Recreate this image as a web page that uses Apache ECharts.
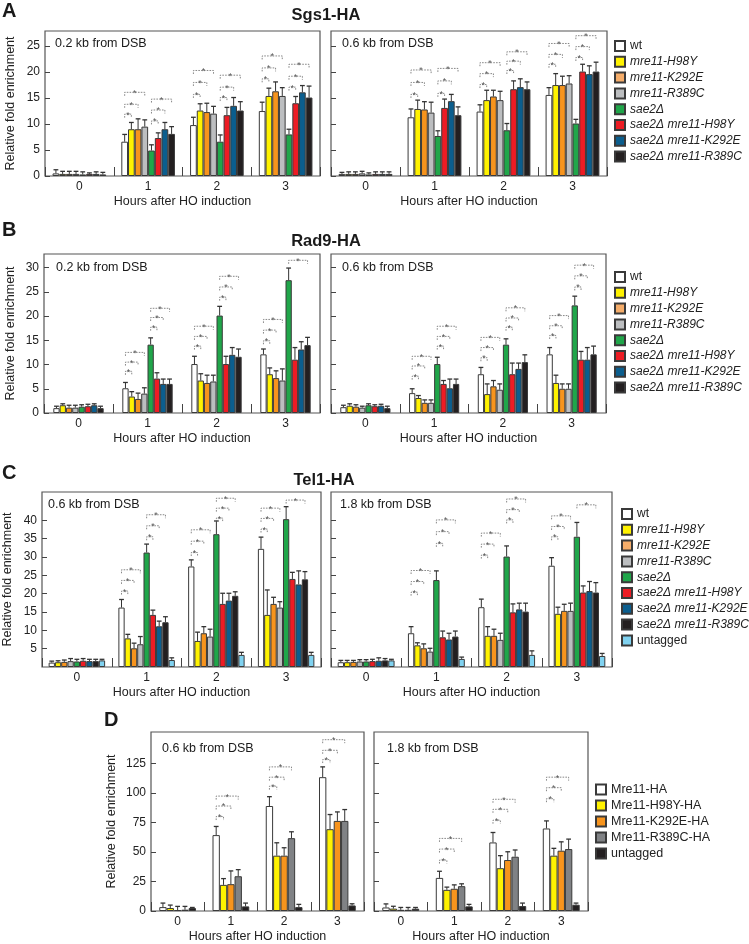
<!DOCTYPE html>
<html><head><meta charset="utf-8">
<script src="https://cdn.jsdelivr.net/npm/echarts@6/dist/echarts.min.js"></script>
<style>html,body{margin:0;padding:0;background:#fff}#c{width:749px;height:944px}</style>
</head><body><div id="c"></div>
<script>
// ---------- categories / names ----------
const hours = ['0', '1', '2', '3'];
const strainsAB = ['wt', 'mre11-H98Y', 'mre11-K292E', 'mre11-R389C', 'sae2Δ', 'sae2Δ mre11-H98Y', 'sae2Δ mre11-K292E', 'sae2Δ mre11-R389C'];
const strainsC = ['wt', 'mre11-H98Y', 'mre11-K292E', 'mre11-R389C', 'sae2Δ', 'sae2Δ mre11-H98Y', 'sae2Δ mre11-K292E', 'sae2Δ mre11-R389C', 'untagged'];
const strainsD = ['Mre11-HA', 'Mre11-H98Y-HA', 'Mre11-K292E-HA', 'Mre11-R389C-HA', 'untagged'];

// ---------- tick values ----------
const ticksA = [0, 5, 10, 15, 20, 25];
const ticksB = [0, 5, 10, 15, 20, 25, 30];
const ticksC = [5, 10, 15, 20, 25, 30, 35, 40];
const ticksD = [0, 25, 50, 75, 100, 125];

// ---------- A: Sgs1-HA (rows = strains, cols = hours 0..3) ----------
const sgs1Near = [[0.5, 6.6, 9.8, 12.5], [0.4, 9.0, 12.6, 15.4], [0.4, 9.0, 12.3, 16.3], [0.4, 9.5, 12.0, 15.4], [0.3, 4.9, 6.6, 8.0], [0.4, 7.3, 11.7, 14.0], [0.4, 9.0, 13.5, 16.1], [0.3, 8.1, 12.6, 15.1]];
const sgs1NearErr = [[0.7, 1.4, 1.5, 1.7], [0.5, 1.3, 1.3, 1.5], [0.5, 2.0, 1.7, 1.8], [0.5, 1.3, 1.4, 1.6], [0.5, 1.1, 1.3, 1.0], [0.2, 1.0, 1.5, 1.3], [0.4, 1.3, 1.6, 1.3], [0.4, 1.4, 1.7, 2.2]];
const sgs1Far = [[0.4, 11.3, 12.4, 15.6], [0.4, 12.9, 14.6, 17.5], [0.4, 12.8, 15.3, 17.5], [0.5, 12.2, 14.6, 17.8], [0.3, 7.7, 8.8, 10.1], [0.4, 13.1, 16.7, 20.1], [0.4, 14.4, 17.1, 19.6], [0.4, 11.7, 16.7, 20.1]];
const sgs1FarErr = [[0.3, 1.6, 1.3, 1.4], [0.4, 1.7, 1.9, 2.2], [0.4, 1.5, 1.2, 1.7], [0.4, 2.0, 1.7, 1.5], [0.3, 1.0, 1.3, 0.8], [0.4, 1.7, 1.6, 1.4], [0.4, 1.3, 1.6, 1.6], [0.4, 1.6, 1.4, 1.8]];
// significance brackets: [hour, fromBar, toBar, level]
const sgs1NearSig = [[1,0,1,11.9],[1,0,2,13.8],[1,0,3,16.1],[1,4,5,10.6],[1,4,6,12.7],[1,4,7,14.8],[2,0,1,15.7],[2,0,2,18.0],[2,0,3,20.3],[2,4,5,15.1],[2,4,6,17.1],[2,4,7,19.4],[3,0,1,18.7],[3,0,2,20.8],[3,0,3,23.1],[3,4,5,17.1],[3,4,6,19.2],[3,4,7,21.5]];
const sgs1FarSig = [[1,0,1,15.7],[1,0,2,18.0],[1,0,3,20.4],[1,4,5,15.9],[1,4,6,18.3],[1,4,7,20.7],[2,0,1,17.6],[2,0,2,19.7],[2,0,3,21.8],[2,4,5,20.3],[2,4,6,22.1],[2,4,7,23.9],[3,0,1,21.5],[3,0,2,23.4],[3,0,3,25.5],[3,4,5,22.8],[3,4,6,24.9],[3,4,7,27.0]];

// ---------- B: Rad9-HA ----------
const rad9Near = [[1.0, 5.1, 10.1, 12.1], [1.6, 3.4, 6.7, 8.0], [1.1, 2.9, 6.2, 7.2], [1.1, 4.0, 6.5, 6.7], [1.3, 14.1, 20.1, 27.4], [1.4, 7.1, 10.1, 11.0], [1.6, 6.0, 12.0, 13.1], [1.0, 6.0, 11.6, 14.0]];
const rad9NearErr = [[0.4, 1.2, 1.6, 1.1], [0.3, 1.0, 1.4, 1.3], [0.5, 1.2, 1.6, 1.5], [0.5, 1.2, 1.3, 2.4], [0.4, 1.4, 1.9, 2.5], [0.4, 1.2, 1.6, 2.5], [0.3, 1.0, 1.5, 1.6], [0.4, 1.0, 1.6, 1.6]];
const rad9Far = [[1.2, 4.1, 8.0, 12.1], [1.5, 3.1, 3.9, 6.2], [1.3, 2.1, 5.5, 5.0], [1.1, 2.1, 4.8, 5.0], [1.6, 10.1, 14.1, 22.2], [1.4, 6.0, 8.0, 11.0], [1.5, 5.1, 9.1, 11.0], [1.0, 6.0, 10.5, 12.1]];
const rad9FarErr = [[0.4, 0.9, 1.4, 1.4], [0.4, 0.5, 2.1, 1.6], [0.4, 0.6, 1.2, 1.0], [0.3, 0.6, 1.2, 1.0], [0.3, 1.4, 1.2, 1.9], [0.3, 0.7, 2.3, 1.7], [0.3, 1.9, 1.2, 2.5], [0.4, 1.0, 1.5, 1.7]];
const rad9NearSig = [[1,0,1,8.6],[1,0,2,10.5],[1,0,3,12.5],[1,4,5,17.7],[1,4,6,19.7],[1,4,7,21.6],[2,0,1,13.8],[2,0,2,15.8],[2,0,3,17.9],[2,4,5,23.9],[2,4,6,26.0],[2,4,7,28.2],[3,0,1,14.9],[3,0,2,17.1],[3,0,3,19.3],[3,4,7,31.5]];
const rad9FarSig = [[1,0,1,7.6],[1,0,2,9.7],[1,0,3,11.7],[1,4,5,13.8],[1,4,6,15.8],[1,4,7,17.9],[2,0,1,11.4],[2,0,2,13.5],[2,0,3,15.6],[2,4,5,17.7],[2,4,6,19.6],[2,4,7,21.7],[3,0,1,16.0],[3,0,2,18.0],[3,0,3,20.1],[3,4,5,26.0],[3,4,6,28.3],[3,4,7,30.5]];

// ---------- C: Tel1-HA ----------
const tel1Near = [[1.2, 16.2, 27.4, 32.2], [1.3, 7.8, 7.1, 14.2], [1.4, 5.1, 9.2, 17.2], [1.6, 6.2, 8.3, 16.2], [1.5, 31.2, 36.2, 40.3], [1.7, 14.2, 17.2, 24.0], [1.6, 11.1, 18.1, 22.5], [1.6, 12.2, 19.4, 23.9], [1.8, 1.9, 3.3, 3.3]];
const tel1NearErr = [[0.4, 2.2, 1.8, 3.2], [0.4, 1.1, 2.4, 6.8], [0.5, 1.4, 1.8, 1.8], [0.7, 2.1, 2.0, 1.6], [0.6, 2.3, 3.6, 3.4], [0.6, 1.3, 2.9, 1.8], [0.5, 1.4, 2.0, 3.7], [0.5, 1.5, 1.1, 2.1], [0.3, 0.6, 0.7, 0.7]];
const tel1Far = [[1.3, 9.2, 16.3, 27.6], [1.3, 5.9, 8.5, 14.5], [1.4, 5.1, 8.5, 15.3], [1.5, 4.2, 7.4, 15.3], [1.5, 23.7, 30.1, 35.5], [1.6, 8.1, 14.9, 20.3], [1.7, 7.5, 15.7, 20.7], [1.8, 8.3, 15.1, 20.3], [1.8, 2.2, 3.3, 3.0]];
const tel1FarErr = [[0.5, 1.8, 2.2, 2.2], [0.5, 0.7, 2.5, 1.8], [0.4, 1.2, 1.8, 1.8], [0.5, 0.9, 1.8, 2.1], [0.5, 2.5, 2.9, 3.9], [0.5, 1.7, 2.3, 1.8], [0.8, 1.7, 1.7, 2.6], [0.5, 1.5, 2.3, 2.7], [0.3, 0.5, 1.1, 0.7]];
const tel1NearSig = [[1,0,1,20.7],[1,0,2,23.6],[1,0,3,26.5],[1,4,5,35.5],[1,4,6,38.5],[1,4,7,41.5],[2,0,1,31.2],[2,0,2,34.3],[2,0,3,37.4],[2,4,5,40.6],[2,4,6,43.3],[2,4,7,46.0],[3,0,1,37.6],[3,0,2,40.5],[3,0,3,43.3],[3,4,7,45.5]];
const tel1FarSig = [[1,0,1,20.4],[1,0,2,23.3],[1,0,3,26.3],[1,4,5,33.7],[1,4,6,36.9],[1,4,7,40.1],[2,0,1,30.5],[2,0,2,33.5],[2,0,3,36.5],[2,4,5,40.1],[2,4,6,42.9],[2,4,7,45.8],[3,0,1,35.5],[3,0,2,38.3],[3,0,3,41.2],[3,4,7,44.2]];

// ---------- D: Mre11-HA ----------
const mre11Near = [[3.3, 64.2, 88.8, 113.2], [2.5, 22.1, 46.8, 69.2], [0.8, 22.7, 46.8, 76.2], [1.1, 29.4, 61.6, 76.2], [2.5, 3.9, 3.3, 4.7]];
const mre11NearErr = [[3.4, 7.3, 7.9, 8.7], [2.5, 5.3, 10.9, 12.4], [3.1, 11.2, 6.7, 7.6], [2.8, 5.6, 5.4, 9.6], [0.5, 2.8, 2.3, 1.4]];
const mre11Far = [[3.0, 28.0, 58.0, 69.8], [2.0, 17.9, 36.2, 46.8], [1.0, 18.8, 43.1, 51.0], [1.0, 21.0, 45.9, 52.4], [2.0, 3.9, 4.2, 5.3]];
const mre11FarErr = [[3.0, 5.6, 8.4, 6.4], [2.0, 2.3, 10.6, 6.2], [2.0, 3.3, 7.0, 7.5], [2.0, 2.0, 5.7, 8.4], [1.0, 1.7, 2.5, 1.4]];
const mre11NearSig = [[1,0,1,79.9],[1,0,2,88.8],[1,0,3,97.2],[2,0,1,105.6],[2,0,2,113.2],[2,0,3,121.9],[3,0,1,128.1],[3,0,2,135.9],[3,0,3,144.9]];
const mre11FarSig = [[1,0,1,43.1],[1,0,2,52.4],[1,0,3,61.4],[2,0,1,76.8],[2,0,2,86.0],[2,0,3,94.5],[3,0,1,95.0],[3,0,2,104.3],[3,0,3,113.2]];

// ---------- styles ----------
const colorsAB = ['#ffffff', '#fff200', '#f7941d', '#bcbec0', '#20a64a', '#ed1c24', '#0b5e8e', '#231f20'];
const colorsC = ['#ffffff', '#fff200', '#f7941d', '#bcbec0', '#20a64a', '#ed1c24', '#0b5e8e', '#231f20', '#80d2f0'];
const colorsD = ['#ffffff', '#fff200', '#f7941d', '#808285', '#231f20'];
const FF = "'Liberation Sans', Arial, Helvetica, sans-serif";
const TXT = '#222';

const panels = [
  {rect: [45, 31, 275, 145], max: 27.9, ticks: ticksA, gap: 22, names: strainsAB, colors: colorsAB, mean: sgs1Near, err: sgs1NearErr, sig: sgs1NearSig, left: true, nameGap: 28},
  {rect: [331, 31, 276, 145], max: 27.9, ticks: ticksA, gap: 22, names: strainsAB, colors: colorsAB, mean: sgs1Far, err: sgs1FarErr, sig: sgs1FarSig, left: false},
  {rect: [44, 254, 276, 159], max: 32.8, ticks: ticksB, gap: 27, names: strainsAB, colors: colorsAB, mean: rad9Near, err: rad9NearErr, sig: rad9NearSig, left: true, nameGap: 27},
  {rect: [331, 254, 275, 159], max: 32.8, ticks: ticksB, gap: 27, names: strainsAB, colors: colorsAB, mean: rad9Far, err: rad9FarErr, sig: rad9FarSig, left: false},
  {rect: [38, 492, 283, 175], max: 47.7, ticks: ticksC, gap: 19, names: strainsC, colors: colorsC, mean: tel1Near, err: tel1NearErr, sig: tel1NearSig, left: true, nameGap: 28},
  {rect: [331, 492, 281, 175], max: 47.7, ticks: ticksC, gap: 19, names: strainsC, colors: colorsC, mean: tel1Far, err: tel1FarErr, sig: tel1FarSig, left: false},
  {rect: [151, 732, 213, 180], max: 151.4, ticks: ticksD, gap: 31, names: strainsD, colors: colorsD, mean: mre11Near, err: mre11NearErr, sig: mre11NearSig, left: true, nameGap: 33},
  {rect: [374, 732, 214, 180], max: 151.4, ticks: ticksD, gap: 31, names: strainsD, colors: colorsD, mean: mre11Far, err: mre11FarErr, sig: mre11FarSig, left: false}
];

function barX(api, p, cat, k) {
  const c = api.coord([cat, 0])[0];
  const band = api.size([1, 0])[0];
  const gw = band * (1 - p.gap / 100);
  const bw = gw / p.names.length;
  return c - gw / 2 + (k + 0.5) * bw;
}

const grid = [], xAxis = [], yAxis = [], series = [];
panels.forEach((p, i) => {
  grid.push({left: p.rect[0], top: p.rect[1], width: p.rect[2], height: p.rect[3], show: true, borderColor: '#555', borderWidth: 1.2, backgroundColor: '#fff'});
  xAxis.push({
    type: 'category', gridIndex: i, data: hours, boundaryGap: true,
    axisLine: {show: false},
    axisTick: {show: true, inside: true, length: 9, alignWithLabel: false, lineStyle: {color: '#444', width: 1}},
    axisLabel: {fontSize: 12, color: TXT, margin: 5, fontFamily: FF},
    splitLine: {show: false},
    name: 'Hours after HO induction', nameLocation: 'middle', nameGap: 19,
    nameTextStyle: {fontSize: 12.5, color: TXT, fontFamily: FF}
  });
  const tk = p.ticks;
  yAxis.push({
    type: 'value', gridIndex: i, min: 0, max: p.max, interval: tk[1] - tk[0],
    axisLine: {show: false},
    axisTick: {show: true, inside: true, length: 5, customValues: tk, lineStyle: {color: '#444'}},
    splitLine: {show: false},
    axisLabel: {show: p.left, fontSize: 12, color: TXT, margin: 5, fontFamily: FF, customValues: tk,
      formatter: v => (tk.indexOf(Math.round(v * 100) / 100) >= 0) ? String(Math.round(v)) : ''},
    name: p.left ? 'Relative fold enrichment' : '', nameLocation: 'middle', nameGap: p.nameGap || 28,
    nameTextStyle: {fontSize: 12.5, color: TXT, fontFamily: FF}
  });
  p.names.forEach((n, k) => {
    series.push({
      type: 'bar', name: n, xAxisIndex: i, yAxisIndex: i, data: p.mean[k],
      barGap: '0%', barCategoryGap: p.gap + '%',
      itemStyle: {color: p.colors[k], borderColor: '#3a3a3a', borderWidth: 1},
      emphasis: {disabled: true}, silent: true
    });
  });
  const errData = [];
  p.mean.forEach((row, k) => row.forEach((v, c) => errData.push([c, k, v, p.err[k][c]])));
  series.push({
    type: 'custom', xAxisIndex: i, yAxisIndex: i, data: errData, encode: {x: 0, y: 2}, z: 5, silent: true,
    renderItem: (params, api) => {
      const cat = api.value(0), k = api.value(1), v = api.value(2), e = api.value(3);
      const x = barX(api, p, cat, k);
      const y0 = api.coord([cat, v])[1], y1 = api.coord([cat, v + e])[1];
      return {type: 'group', children: [
        {type: 'line', shape: {x1: x, y1: y0, x2: x, y2: y1}, style: {stroke: '#333', lineWidth: 1}},
        {type: 'line', shape: {x1: x - 2.4, y1: y1, x2: x + 2.4, y2: y1}, style: {stroke: '#333', lineWidth: 1.3}}
      ]};
    }
  });
  series.push({
    type: 'custom', xAxisIndex: i, yAxisIndex: i, data: p.sig, encode: {x: 0, y: 3}, z: 6, silent: true,
    renderItem: (params, api) => {
      const cat = api.value(0), a = api.value(1), b = api.value(2), lv = api.value(3);
      const x1 = barX(api, p, cat, a), x2 = barX(api, p, cat, b);
      const y = api.coord([cat, lv])[1];
      return {type: 'group', children: [
        {type: 'polyline', shape: {points: [[x1, y + 3.5], [x1, y], [x2, y], [x2, y + 3.5]]},
          style: {stroke: '#6a6a6a', lineWidth: 0.8, lineDash: [1.6, 1.2], fill: null}},
        {type: 'text', x: (x1 + x2) / 2, y: y + 1,
          style: {text: '*', fontSize: 9, fontFamily: FF, fill: '#555', align: 'center', verticalAlign: 'middle', textAlign: 'center', textVerticalAlign: 'middle'}}
      ]};
    }
  });
});

const italicFmt = name => (name === 'wt' || name === 'untagged') ? name : '{i|' + name + '}';
const legTxt = {fontSize: 12, lineHeight: 12, color: TXT, fontFamily: FF, rich: {i: {fontStyle: 'italic', fontSize: 12, lineHeight: 12, color: TXT, fontFamily: FF}}};
function legData(names) {
  return names.map(n => n === 'mre11-K292E' ? {name: n, itemStyle: {color: '#f5ad6a'}} : n);
}
const legendBase = {orient: 'vertical', itemWidth: 10, itemHeight: 10, padding: 0, icon: 'rect', selectedMode: false};
const legend = [
  Object.assign({}, legendBase, {left: 614, top: 40, itemGap: 3.8, data: legData(strainsAB), formatter: italicFmt, textStyle: legTxt}),
  Object.assign({}, legendBase, {left: 614, top: 271, itemGap: 3.8, data: legData(strainsAB), formatter: italicFmt, textStyle: legTxt}),
  Object.assign({}, legendBase, {left: 621, top: 508, itemGap: 3.8, data: legData(strainsC), formatter: italicFmt, textStyle: legTxt}),
  Object.assign({}, legendBase, {left: 595, top: 783, itemGap: 3.0,
    data: strainsD.map(n => n === 'untagged' ? {name: n, itemStyle: {color: '#231f20'}} : n),
    textStyle: {fontSize: 12.5, lineHeight: 12, color: TXT, fontFamily: FF}})
];

function txt(text, x, y, size, bold, align) {
  return {type: 'text', x: x, y: y, silent: true,
    style: {text: text, fontSize: size, fontWeight: bold ? 'bold' : 'normal', fontFamily: FF, fill: '#1a1a1a',
      align: align || 'left', verticalAlign: 'middle', textAlign: align || 'left', textVerticalAlign: 'middle'}};
}
const graphic = [
  txt('A', 2, 11, 20, true), txt('Sgs1-HA', 326, 15, 16.5, true, 'center'),
  txt('0.2 kb from DSB', 55, 44, 12.5), txt('0.6 kb from DSB', 342, 44, 12.5),
  txt('B', 2, 230, 20, true), txt('Rad9-HA', 326, 241, 16.5, true, 'center'),
  txt('0.2 kb from DSB', 56, 268, 12.5), txt('0.6 kb from DSB', 342, 268, 12.5),
  txt('C', 2, 473, 20, true), txt('Tel1-HA', 324, 480, 16.5, true, 'center'),
  txt('0.6 kb from DSB', 48, 505, 12.5), txt('1.8 kb from DSB', 340, 505, 12.5),
  txt('D', 104, 720, 20, true),
  txt('0.6 kb from DSB', 162, 749, 12.5), txt('1.8 kb from DSB', 387, 749, 12.5)
];

const chart = echarts.init(document.getElementById('c'), null, {renderer: 'canvas'});
chart.setOption({
  animation: false,
  backgroundColor: '#ffffff',
  textStyle: {fontFamily: FF},
  grid: grid, xAxis: xAxis, yAxis: yAxis, series: series, legend: legend, graphic: graphic
});
</script></body></html>
